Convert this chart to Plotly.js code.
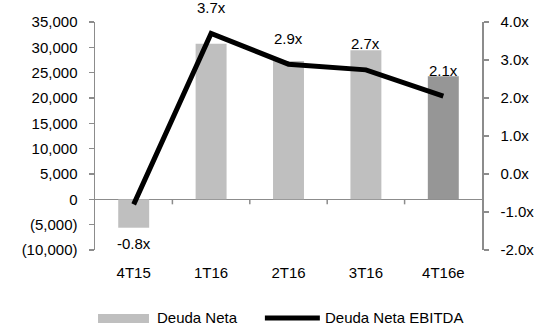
<!DOCTYPE html>
<html>
<head>
<meta charset="utf-8">
<script src="https://cdn.plot.ly/plotly-3.0.1.min.js"></script>
<style>
  html, body { margin: 0; padding: 0; background: #fff; }
  #chart { width: 545px; height: 327px; }
</style>
</head>
<body>
<div id="chart"></div>
<script>
const categories = ['4T15', '1T16', '2T16', '3T16', '4T16e'];
const deudaNeta = [-5600, 30700, 27300, 29400, 24300];
const deudaNetaEbitda = [-0.8, 3.7, 2.89, 2.74, 2.05];
const ratioLabels = ['-0.8x', '3.7x', '2.9x', '2.7x', '2.1x'];
const leftTickVals = [-10000, -5000, 0, 5000, 10000, 15000, 20000, 25000, 30000, 35000];
const leftTickText = ['(10,000)', '(5,000)', '0', '5,000', '10,000', '15,000', '20,000', '25,000', '30,000', '35,000'];
const rightTickVals = [-2, -1, 0, 1, 2, 3, 4];
const rightTickText = ['-2.0x', '-1.0x', '0.0x', '1.0x', '2.0x', '3.0x', '4.0x'];
const seriesNames = ['Deuda Neta', 'Deuda Neta EBITDA'];

const FONT = 'Liberation Sans, Arial, sans-serif';
const AXIS_COLOR = '#8c8c8c';
const barColors = categories.map((c, i) => i === categories.length - 1 ? '#969696' : '#bfbfbf');

const traces = [
  {
    type: 'bar',
    name: seriesNames[0],
    x: categories,
    y: deudaNeta,
    marker: { color: barColors },
    yaxis: 'y',
    hoverinfo: 'skip'
  },
  {
    type: 'scatter',
    mode: 'lines',
    name: seriesNames[1],
    x: categories,
    y: deudaNetaEbitda,
    yaxis: 'y2',
    line: { color: '#000000', width: 5 },
    hoverinfo: 'skip'
  }
];

const annotations = categories.map((c, i) => ({
  x: c,
  y: deudaNetaEbitda[i],
  xref: 'x',
  yref: 'y2',
  text: ratioLabels[i],
  showarrow: false,
  xanchor: 'center',
  yanchor: 'middle',
  yshift: deudaNetaEbitda[i] < 0 ? -39 : 26,
  font: { family: FONT, size: 15, color: '#000' }
}));

// custom legend
annotations.push({
  xref: 'paper', yref: 'paper', x: 0.155, y: -0.298,
  xanchor: 'left', yanchor: 'middle', showarrow: false,
  text: seriesNames[0], font: { family: FONT, size: 15, color: '#000' }
});
annotations.push({
  xref: 'paper', yref: 'paper', x: 0.589, y: -0.298,
  xanchor: 'left', yanchor: 'middle', showarrow: false,
  text: seriesNames[1], font: { family: FONT, size: 15, color: '#000' }
});

const shapes = [];
for (let i = 0; i < categories.length - 1; i++) {
  shapes.push({
    type: 'line', xref: 'x', yref: 'y',
    x0: i + 0.5, x1: i + 0.5,
    ysizemode: 'pixel', yanchor: 0, y0: 0, y1: -5,
    line: { color: AXIS_COLOR, width: 1.5 }
  });
}
shapes.push({
  type: 'rect', xref: 'paper', yref: 'paper',
  x0: 0.0078, x1: 0.1395, y0: -0.320, y1: -0.281,
  fillcolor: '#bfbfbf', line: { width: 0 }
});
shapes.push({
  type: 'line', xref: 'paper', yref: 'paper',
  x0: 0.439, x1: 0.581, y0: -0.298, y1: -0.298,
  line: { color: '#000', width: 5 }
});

const layout = {
  width: 545,
  height: 327,
  margin: { l: 95, r: 63, t: 22, b: 77, pad: 0 },
  paper_bgcolor: '#fff',
  plot_bgcolor: '#fff',
  font: { family: FONT, size: 15, color: '#000' },
  showlegend: false,
  bargap: 0.6,
  xaxis: {
    type: 'category',
    range: [-0.5, 4.5],
    showline: false,
    showgrid: false,
    zeroline: false,
    ticks: '',
    ticklabelstandoff: 12,
    tickfont: { family: FONT, size: 15, color: '#000' }
  },
  yaxis: {
    range: [-10000, 35000],
    tickmode: 'array',
    tickvals: leftTickVals,
    ticktext: leftTickText,
    showline: true,
    linecolor: AXIS_COLOR,
    linewidth: 1.5,
    ticks: 'outside',
    ticklen: 5,
    tickwidth: 1.5,
    tickcolor: AXIS_COLOR,
    showgrid: false,
    zeroline: true,
    zerolinecolor: AXIS_COLOR,
    zerolinewidth: 1.5,
    ticklabelstandoff: 8,
    tickfont: { family: FONT, size: 15, color: '#000' }
  },
  yaxis2: {
    overlaying: 'y',
    side: 'right',
    range: [-2, 4],
    tickmode: 'array',
    tickvals: rightTickVals,
    ticktext: rightTickText,
    showline: true,
    linecolor: AXIS_COLOR,
    linewidth: 1.5,
    ticks: 'outside',
    ticklen: 5,
    tickwidth: 1.5,
    tickcolor: AXIS_COLOR,
    showgrid: false,
    zeroline: false,
    ticklabelstandoff: 9,
    tickfont: { family: FONT, size: 15, color: '#000' }
  },
  annotations: annotations,
  shapes: shapes
};

Plotly.newPlot('chart', traces, layout, { staticPlot: true, displayModeBar: false });
</script>
</body>
</html>
